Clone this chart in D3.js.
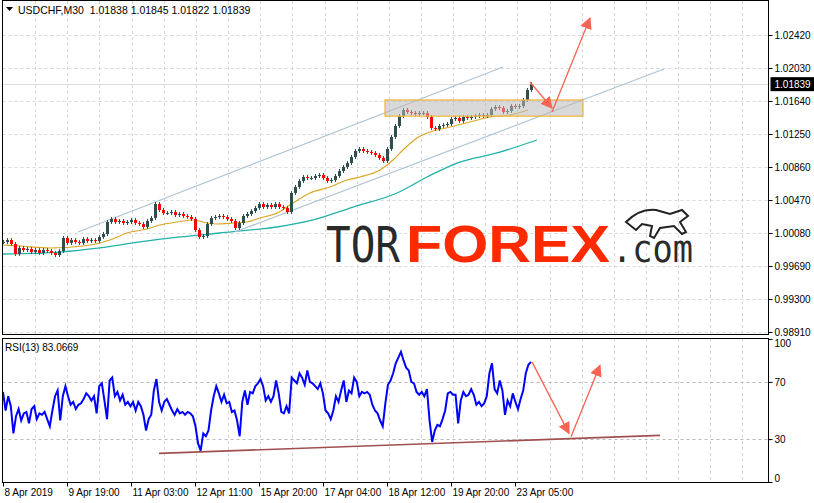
<!DOCTYPE html>
<html>
<head>
<meta charset="utf-8">
<script src="https://cdn.jsdelivr.net/npm/d3@7"></script>
<style>
  body { margin: 0; background: #fff; }
  svg { display: block; font-family: "Liberation Sans", Arial, sans-serif; }
</style>
</head>
<body>
<svg id="chart" width="814" height="503"></svg>
<script>
"use strict";

// closes of M30 USDCHF, sampled every 4 bars
const closes = [0.99974,0.99997,0.99950,0.99832,0.99903,0.99879,0.99891,0.99855,0.99879,0.99844,0.99879,0.99867,0.99844,0.99820,0.99867,1.00021,0.99962,0.99997,0.99974,0.99962,1.00009,0.99985,0.99997,0.99985,1.00033,1.00068,1.00210,1.00245,1.00210,1.00222,1.00198,1.00210,1.00234,1.00198,1.00186,1.00151,1.00222,1.00257,1.00423,1.00352,1.00316,1.00316,1.00328,1.00293,1.00305,1.00281,1.00269,1.00245,1.00115,1.00033,1.00045,1.00186,1.00257,1.00269,1.00281,1.00269,1.00245,1.00222,1.00139,1.00198,1.00281,1.00305,1.00340,1.00376,1.00423,1.00387,1.00411,1.00387,1.00423,1.00387,1.00376,1.00328,1.00553,1.00624,1.00695,1.00742,1.00730,1.00730,1.00754,1.00766,1.00730,1.00695,1.00706,1.00754,1.00813,1.00860,1.00907,1.00978,1.01049,1.01073,1.01049,1.01037,1.01026,1.01002,1.00967,1.00931,1.01073,1.01215,1.01345,1.01463,1.01534,1.01510,1.01498,1.01487,1.01498,1.01498,1.01451,1.01321,1.01309,1.01345,1.01357,1.01368,1.01427,1.01439,1.01404,1.01451,1.01439,1.01451,1.01463,1.01475,1.01463,1.01475,1.01546,1.01569,1.01558,1.01510,1.01522,1.01581,1.01569,1.01581,1.01652,1.01770,1.01839];
const BAR_STEP = 4;

// moving averages: [bar, price]
const maFast = [[0,0.99938],[17,0.99926],[47,0.99903],[80,0.99926],[97,0.99962],[107,0.99997],[124,1.00080],[144,1.00127],[157,1.00175],[174,1.00210],[190,1.00234],[204,1.00198],[214,1.00186],[230,1.00198],[244,1.00210],[257,1.00257],[274,1.00316],[287,1.00411],[307,1.00553],[327,1.00624],[344,1.00706],[357,1.00742],[377,1.00825],[390,1.00943],[400,1.01061],[414,1.01203],[427,1.01274],[447,1.01333],[467,1.01392],[487,1.01451],[507,1.01475],[525,1.01534]];
const maSlow = [[0,0.99832],[57,0.99855],[97,0.99903],[137,0.99974],[177,1.00033],[217,1.00080],[257,1.00127],[274,1.00151],[310,1.00234],[350,1.00387],[394,1.00553],[424,1.00742],[454,1.00907],[494,1.01026],[534,1.01179]];

// RSI(13)
const rsi = [63,50,60,53,34,46,51,43,48,49,41,51,53,44,48,47,49,44,39,50,60,64,43,60,67,60,54,56,51,54,55,58,62,60,57,60,48,67,69,57,44,71,73,60,63,57,61,54,56,53,56,50,56,53,47,36,44,47,64,72,56,50,56,58,54,50,47,51,48,49,47,49,48,46,39,27,22,34,32,36,50,60,67,62,56,61,55,56,49,50,43,32,56,64,54,63,62,67,69,72,67,57,60,56,60,71,62,49,48,53,48,73,71,69,76,73,68,78,70,69,67,65,69,62,50,48,44,50,60,56,64,71,56,64,62,73,70,60,63,62,63,61,54,50,48,43,39,55,68,71,76,83,87,91,85,80,78,70,69,63,61,63,60,65,43,28,36,40,39,44,50,62,63,61,61,41,57,63,60,61,65,61,54,56,53,55,60,76,83,65,62,71,64,47,57,53,62,56,51,58,64,76,82,84];
const RSI_LAST_BAR = 528;

const priceTicks = [1.02420,1.02030,1.01640,1.01250,1.00860,1.00470,1.00080,0.99690,0.99300,0.98910];
const rsiTicks = [100,70,30,0];
const dateTicks = [0,64,128,192,256,320,384,448,512];
const dateLabels = ["8 Apr 2019","9 Apr 19:00","11 Apr 03:00","12 Apr 11:00","15 Apr 20:00","17 Apr 04:00","18 Apr 12:00","19 Apr 20:00","23 Apr 05:00"];

// analysis drawings: [bar, value]
const channelUpper = [[75,1.00092],[500,1.02042]];
const channelLower = [[232,1.00092],[661,1.02018]];
const rangeBox = { from: 382, to: 580, top: 1.01652, bottom: 1.01461 };
const priceArrows = [[[527,1.01865],[549,1.01557]],[[549,1.01510],[587,1.02621]]];
const rsiSupport = [[156,20],[657,32.6]];
const rsiArrows = [[[529,84],[566,34]],[[568,31.6],[597,81.6]]];

const header = "USDCHF,M30  1.01838 1.01845 1.01822 1.01839";

const L = 2.5, R = 768.5;
const svg = d3.select("#chart");

const x = d3.scaleLinear().domain([0, 765]).range([3, 768]);
const y = d3.scaleLinear().domain([0.98910, 1.02420]).range([332, 35]);
const yr = d3.scaleLinear().domain([0, 100]).range([482, 339]);

// grids
const grid = svg.append("g").attr("stroke", "#d8d8d8").attr("stroke-dasharray", "3,3");
for (let k = 1; k < 24; k++) {
  const gx = Math.round(3 + k * 32.15) + 0.5;
  grid.append("line").attr("x1", gx).attr("x2", gx).attr("y1", 1).attr("y2", 334);
  grid.append("line").attr("x1", gx).attr("x2", gx).attr("y1", 339).attr("y2", 482);
}
priceTicks.forEach(t => {
  grid.append("line").attr("x1", L).attr("x2", R).attr("y1", Math.round(y(t)) + 0.5).attr("y2", Math.round(y(t)) + 0.5);
});
[70, 30].forEach(t => {
  grid.append("line").attr("x1", L).attr("x2", R).attr("y1", Math.round(yr(t)) + 0.5).attr("y2", Math.round(yr(t)) + 0.5)
    .attr("stroke", "#bbb");
});

// current price line
const lastPrice = closes[closes.length - 1];
svg.append("line").attr("x1", L).attr("x2", R)
  .attr("y1", Math.round(y(lastPrice)) + 0.5).attr("y2", Math.round(y(lastPrice)) + 0.5)
  .attr("stroke", "#ddd");

// watermark
const wm = svg.append("g");
const wt = wm.append("text").attr("y", 262);
wt.append("tspan").attr("x", 326).text("TOR")
  .attr("font-family", "DejaVu Sans Mono").attr("font-size", 50).attr("fill", "#2a2a2a")
  .attr("textLength", 74).attr("lengthAdjust", "spacingAndGlyphs");
wt.append("tspan").attr("x", 406).text("FOREX")
  .attr("font-family", "Liberation Sans").attr("font-weight", "bold").attr("font-size", 52).attr("fill", "#ff2a00")
  .attr("textLength", 204).attr("lengthAdjust", "spacingAndGlyphs");
wt.append("tspan").attr("x", 612).text(".com")
  .attr("font-family", "DejaVu Sans Mono").attr("font-size", 38).attr("fill", "#2a2a2a")
  .attr("textLength", 81).attr("lengthAdjust", "spacingAndGlyphs");
wm.append("path").attr("d", "M626,222 q14,-14 30,-12 l14,4 l12,-4 l6,6 l-8,6 l6,10 l-4,2 l-8,-8 l-14,2 l-6,10 l-4,-2 l2,-10 l-10,-2 l-6,6 z")
  .attr("fill", "none").attr("stroke", "#222").attr("stroke-width", 2);

// moving averages
const maLine = d3.line().x(d => x(d[0])).y(d => y(d[1])).curve(d3.curveMonotoneX);
svg.append("path").datum(maSlow).attr("d", maLine).attr("fill", "none").attr("stroke", "#20b2aa").attr("stroke-width", 1.3);
svg.append("path").datum(maFast).attr("d", maLine).attr("fill", "none").attr("stroke", "#daa520").attr("stroke-width", 1.1);

// channel
[channelUpper, channelLower].forEach(c => {
  svg.append("line").attr("x1", x(c[0][0])).attr("y1", y(c[0][1])).attr("x2", x(c[1][0])).attr("y2", y(c[1][1]))
    .attr("stroke", "#b0c4d2").attr("stroke-width", 1.2);
});

// candles
const candles = closes.map((c, i) => {
  const o = i === 0 ? c : closes[i - 1];
  return { bar: i * BAR_STEP, o: o, c: c };
});
const cg = svg.append("g");
candles.forEach(d => {
  const up = d.c >= d.o;
  const col = up ? "#2f4f4f" : "#ff0000";
  const top = y(Math.max(d.o, d.c)), bot = y(Math.min(d.o, d.c));
  cg.append("line").attr("x1", x(d.bar) + 0.5).attr("x2", x(d.bar) + 0.5)
    .attr("y1", top - 2).attr("y2", bot + 2).attr("stroke", col);
  cg.append("rect").attr("x", x(d.bar) - 1).attr("width", 3)
    .attr("y", top).attr("height", Math.max(1, bot - top)).attr("fill", col);
});

// range box
svg.append("rect").attr("x", x(rangeBox.from)).attr("width", x(rangeBox.to) - x(rangeBox.from))
  .attr("y", y(rangeBox.top)).attr("height", y(rangeBox.bottom) - y(rangeBox.top))
  .attr("fill", "rgba(185,185,185,0.55)").attr("stroke", "#f2b43a").attr("stroke-width", 1.2);

// arrows
const defs = svg.append("defs");
defs.append("marker").attr("id", "head").attr("viewBox", "0 0 10 10").attr("refX", 9).attr("refY", 5)
  .attr("markerWidth", 12).attr("markerHeight", 12).attr("markerUnits", "userSpaceOnUse").attr("orient", "auto")
  .append("path").attr("d", "M0,0 L10,5 L0,10 z").attr("fill", "#f86454");
function arrow(seg, ys) {
  svg.append("line").attr("x1", x(seg[0][0])).attr("y1", ys(seg[0][1])).attr("x2", x(seg[1][0])).attr("y2", ys(seg[1][1]))
    .attr("stroke", "#f86454").attr("stroke-width", 1.3).attr("marker-end", "url(#head)");
}
priceArrows.forEach(a => arrow(a, y));

// RSI
const rsiStep = RSI_LAST_BAR / (rsi.length - 1);
svg.append("line").attr("x1", x(rsiSupport[0][0])).attr("y1", yr(rsiSupport[0][1]))
  .attr("x2", x(rsiSupport[1][0])).attr("y2", yr(rsiSupport[1][1]))
  .attr("stroke", "#a05050").attr("stroke-width", 1.6);
svg.append("path").datum(rsi)
  .attr("d", d3.line().x((d, i) => x(i * rsiStep)).y(d => yr(d)))
  .attr("fill", "none").attr("stroke", "#0000ff").attr("stroke-width", 2);
rsiArrows.forEach(a => arrow(a, yr));

// frames
svg.append("rect").attr("x", L).attr("y", 0.5).attr("width", R - L).attr("height", 334).attr("fill", "none").attr("stroke", "#000");
svg.append("rect").attr("x", L).attr("y", 338.5).attr("width", R - L).attr("height", 144).attr("fill", "none").attr("stroke", "#000");

// right axes
const yAxis = d3.axisRight(y).tickValues(priceTicks).tickFormat(d3.format(".5f")).tickSize(4).tickPadding(2);
const ya = svg.append("g").attr("transform", `translate(${R},0)`).call(yAxis);
const yrAxis = d3.axisRight(yr).tickValues(rsiTicks).tickSize(4).tickPadding(2);
const yra = svg.append("g").attr("transform", `translate(${R},0)`).call(yrAxis);
[ya, yra].forEach(g => {
  g.select(".domain").remove();
  g.selectAll("text").attr("font-size", 10).attr("fill", "#000").attr("font-family", "Liberation Sans");
});
yra.selectAll(".tick text").attr("dy", (d) => d === 100 ? "0.7em" : d === 0 ? "-0.1em" : "0.32em");

// last price tag
const lp = svg.append("g").attr("transform", `translate(${R + 2},${y(lastPrice)})`);
lp.append("rect").attr("x", 0).attr("y", -7).attr("width", 44).attr("height", 14).attr("fill", "#000");
lp.append("text").attr("x", 4).attr("y", 4).text(d3.format(".5f")(lastPrice)).attr("fill", "#fff").attr("font-size", 10);

// date axis
const xAxis = d3.axisBottom(x).tickValues(dateTicks).tickFormat((d, i) => dateLabels[i]).tickSize(4).tickPadding(2);
const xa = svg.append("g").attr("transform", "translate(0,482.5)").call(xAxis);
xa.select(".domain").remove();
xa.selectAll("text").attr("text-anchor", "start").attr("x", 1).attr("font-size", 10).attr("fill", "#000");

// labels
svg.append("path").attr("d", "M6,7 L13,7 L9.5,11 z").attr("fill", "#000");
svg.append("text").attr("x", 18).attr("y", 14).text(header).attr("font-size", 10.5).attr("fill", "#000")
  .attr("xml:space", "preserve").style("white-space", "pre");
svg.append("text").attr("x", 5).attr("y", 351).text("RSI(13) 83.0669").attr("font-size", 10).attr("fill", "#000");
</script>
</body>
</html>
